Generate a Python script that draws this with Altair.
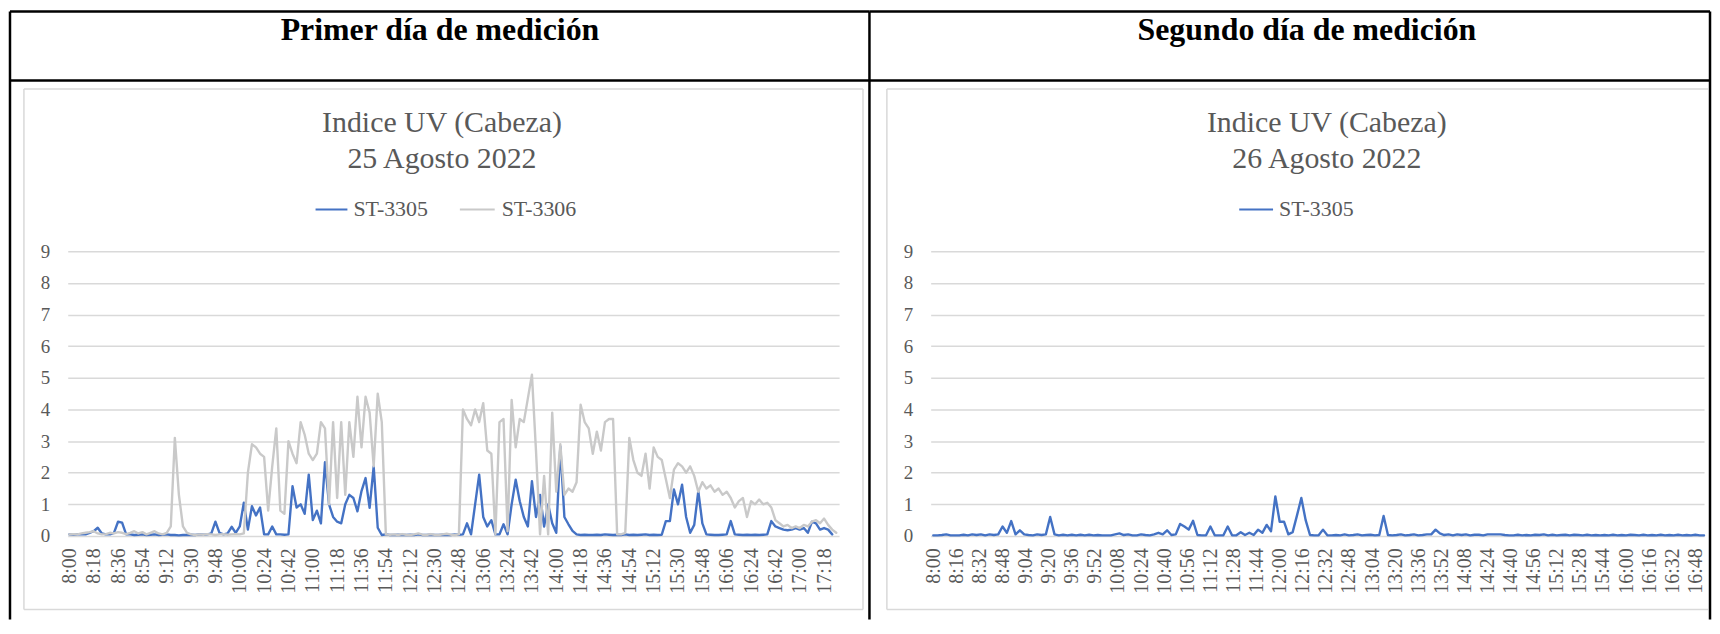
import altair as alt
import pandas as pd

FONT = "Liberation Serif"
STEP = 3  # minutes between samples, starting at 8:00

# ---------------- Day 1: 25 Agosto 2022 (one value every 3 min from 8:00) ----------------
d1_st3305 = [
    0.05, 0.04, 0.05, 0.06, 0.05, 0.10, 0.15, 0.26, 0.08, 0.05,   # 8:00
    0.05, 0.10, 0.45, 0.42, 0.05, 0.05, 0.03, 0.04, 0.05, 0.03,   # 8:30
    0.04, 0.05, 0.03, 0.04, 0.05, 0.03, 0.03, 0.02, 0.03, 0.03,   # 9:00
    0.04, 0.03, 0.05, 0.04, 0.05, 0.08, 0.45, 0.10, 0.05, 0.08,   # 9:30
    0.29, 0.10, 0.30, 1.05, 0.20, 0.94, 0.65, 0.90, 0.05, 0.05,   # 10:00
    0.30, 0.05, 0.05, 0.04, 0.05, 1.57, 0.90, 1.00, 0.70, 1.94,   # 10:30
    0.50, 0.80, 0.40, 2.33, 1.00, 0.60, 0.45, 0.40, 1.00, 1.30,   # 11:00
    1.20, 0.78, 1.42, 1.83, 0.89, 2.20, 0.26, 0.03, 0.05, 0.03,   # 11:30
    0.03, 0.04, 0.03, 0.03, 0.04, 0.03, 0.05, 0.03, 0.03, 0.04,   # 12:00
    0.03, 0.03, 0.04, 0.03, 0.03, 0.05, 0.04, 0.05, 0.40, 0.05,   # 12:30
    1.00, 1.94, 0.60, 0.30, 0.50, 0.05, 0.05, 0.37, 0.05, 1.00,   # 13:00
    1.78, 1.10, 0.60, 0.30, 1.73, 0.60, 1.30, 0.30, 1.00, 0.40,   # 13:30
    0.10, 2.83, 0.60, 0.37, 0.16, 0.05, 0.03, 0.04, 0.03, 0.03,   # 14:00
    0.04, 0.03, 0.05, 0.04, 0.03, 0.04, 0.03, 0.05, 0.03, 0.04,   # 14:30
    0.03, 0.04, 0.05, 0.03, 0.04, 0.03, 0.04, 0.47, 0.47, 1.47,   # 15:00
    1.00, 1.62, 0.60, 0.10, 0.35, 1.42, 0.40, 0.05, 0.04, 0.03,   # 15:30
    0.03, 0.04, 0.05, 0.47, 0.05, 0.04, 0.03, 0.04, 0.03, 0.04,   # 16:00
    0.03, 0.04, 0.05, 0.47, 0.30, 0.25, 0.20, 0.18, 0.20, 0.25,   # 16:30
    0.20, 0.25, 0.10, 0.45, 0.40, 0.20, 0.25, 0.20, 0.05, None,   # 17:00
]
d1_st3306 = [
    0.05, 0.06, 0.05, 0.08, 0.10, 0.12, 0.15, 0.08, 0.05, 0.06,   # 8:00
    0.10, 0.08, 0.12, 0.10, 0.06, 0.10, 0.15, 0.08, 0.12, 0.05,   # 8:30
    0.10, 0.15, 0.08, 0.05, 0.10, 0.30, 3.10, 1.30, 0.30, 0.10,   # 9:00
    0.05, 0.03, 0.05, 0.04, 0.06, 0.05, 0.03, 0.05, 0.06, 0.04,   # 9:30
    0.05, 0.06, 0.05, 0.08, 2.00, 2.90, 2.80, 2.60, 2.50, 0.80,   # 10:00
    2.20, 3.40, 0.80, 0.70, 3.00, 2.60, 2.30, 3.60, 3.20, 2.60,   # 10:30
    2.40, 2.60, 3.60, 3.40, 1.00, 3.60, 1.20, 3.60, 1.30, 3.60,   # 11:00
    2.50, 4.40, 2.80, 4.40, 3.90, 2.20, 4.50, 3.60, 0.05, 0.04,   # 11:30
    0.05, 0.03, 0.06, 0.04, 0.03, 0.05, 0.08, 0.04, 0.03, 0.06,   # 12:00
    0.04, 0.03, 0.05, 0.07, 0.04, 0.03, 0.05, 4.00, 3.70, 3.50,   # 12:30
    4.00, 3.60, 4.20, 2.70, 2.60, 0.05, 3.60, 3.70, 0.15, 4.30,   # 13:00
    2.80, 3.70, 3.60, 4.35, 5.10, 2.70, 0.05, 1.90, 0.05, 3.90,   # 13:30
    1.40, 2.90, 1.30, 1.50, 1.40, 1.70, 4.15, 3.60, 3.40, 2.60,   # 14:00
    3.30, 2.70, 3.60, 3.70, 3.70, 0.05, 0.05, 0.10, 3.10, 2.40,   # 14:30
    2.00, 1.90, 2.60, 1.50, 2.80, 2.50, 2.40, 1.80, 1.20, 2.10,   # 15:00
    2.30, 2.20, 2.00, 2.20, 1.90, 1.40, 1.70, 1.50, 1.60, 1.40,   # 15:30
    1.50, 1.30, 1.40, 1.20, 0.90, 1.10, 1.20, 0.60, 1.10, 1.00,   # 16:00
    1.15, 1.00, 1.05, 0.90, 0.50, 0.40, 0.30, 0.35, 0.25, 0.30,   # 16:30
    0.25, 0.35, 0.30, 0.45, 0.50, 0.40, 0.55, 0.35, 0.20, 0.10,   # 17:00
]

# ---------------- Day 2: 26 Agosto 2022 ----------------
d2_st3305 = [
    0.02, 0.02, 0.03, 0.05, 0.02, 0.02, 0.02, 0.04, 0.02, 0.05,   # 8:00
    0.03, 0.05, 0.02, 0.05, 0.03, 0.05, 0.30, 0.10, 0.47, 0.05,   # 8:30
    0.18, 0.05, 0.03, 0.02, 0.05, 0.03, 0.05, 0.60, 0.05, 0.02,   # 9:00
    0.04, 0.02, 0.04, 0.02, 0.04, 0.02, 0.04, 0.02, 0.03, 0.02,   # 9:30
    0.02, 0.02, 0.05, 0.08, 0.03, 0.05, 0.02, 0.02, 0.05, 0.03,   # 10:00
    0.02, 0.05, 0.10, 0.05, 0.18, 0.03, 0.05, 0.38, 0.30, 0.20,   # 10:30
    0.48, 0.03, 0.02, 0.02, 0.30, 0.02, 0.02, 0.02, 0.30, 0.02,   # 11:00
    0.02, 0.12, 0.03, 0.10, 0.03, 0.20, 0.10, 0.35, 0.15, 1.25,   # 11:30
    0.45, 0.45, 0.05, 0.12, 0.65, 1.20, 0.50, 0.03, 0.02, 0.02,   # 12:00
    0.20, 0.02, 0.02, 0.03, 0.02, 0.05, 0.02, 0.03, 0.05, 0.02,   # 12:30
    0.03, 0.04, 0.02, 0.03, 0.63, 0.03, 0.02, 0.03, 0.05, 0.02,   # 13:00
    0.03, 0.05, 0.02, 0.03, 0.05, 0.05, 0.20, 0.08, 0.03, 0.05,   # 13:30
    0.02, 0.05, 0.03, 0.05, 0.02, 0.04, 0.04, 0.02, 0.05, 0.05,   # 14:00
    0.05, 0.05, 0.03, 0.02, 0.02, 0.04, 0.02, 0.03, 0.02, 0.04,   # 14:30
    0.03, 0.05, 0.02, 0.04, 0.02, 0.03, 0.04, 0.02, 0.04, 0.03,   # 15:00
    0.02, 0.04, 0.02, 0.03, 0.02, 0.03, 0.02, 0.04, 0.02, 0.03,   # 15:30
    0.02, 0.04, 0.03, 0.02, 0.04, 0.02, 0.03, 0.02, 0.04, 0.02,   # 16:00
    0.03, 0.02, 0.04, 0.02, 0.03, 0.02, 0.04, 0.02, 0.02,         # 16:30
]

# ---------------- axis tick labels ----------------
d1_tick_labels = ["8:00", "8:18", "8:36", "8:54", "9:12", "9:30", "9:48", "10:06",
                  "10:24", "10:42", "11:00", "11:18", "11:36", "11:54", "12:12", "12:30",
                  "12:48", "13:06", "13:24", "13:42", "14:00", "14:18", "14:36", "14:54",
                  "15:12", "15:30", "15:48", "16:06", "16:24", "16:42", "17:00", "17:18"]
d1_tick_step = 18
d2_tick_labels = ["8:00", "8:16", "8:32", "8:48", "9:04", "9:20", "9:36", "9:52",
                  "10:08", "10:24", "10:40", "10:56", "11:12", "11:28", "11:44", "12:00",
                  "12:16", "12:32", "12:48", "13:04", "13:20", "13:36", "13:52", "14:08",
                  "14:24", "14:40", "14:56", "15:12", "15:28", "15:44", "16:00", "16:16",
                  "16:32", "16:48"]
d2_tick_step = 16
y_ticks = list(range(0, 10))

series_names = ["ST-3305", "ST-3306"]
series_colors = ["#4472C4", "#C9C9C9"]

headers = ["Primer día de medición", "Segundo día de medición"]
titles = [["Indice UV (Cabeza)", "25 Agosto 2022"], ["Indice UV (Cabeza)", "26 Agosto 2022"]]

PLOT_H = 286
BORDER = "#000000"
BOX = "#D9D9D9"
TXT = "#595959"

one = alt.Data(values=[{"k": 0}])


def hline(x1, x2, y, color, w):
    return alt.Chart(one).mark_rule(color=color, strokeWidth=w).encode(
        x=alt.value(x1), x2=alt.value(x2), y=alt.value(y))


def vline(x, y1, y2, color, w):
    return alt.Chart(one).mark_rule(color=color, strokeWidth=w).encode(
        x=alt.value(x), y=alt.value(y1), y2=alt.value(y2))


def text(t, x, y, size, color, bold=False, align="center", baseline="alphabetic"):
    kw = dict(text=t, font=FONT, fontSize=size, color=color, align=align, baseline=baseline)
    if bold:
        kw["fontWeight"] = "bold"
    return alt.Chart(one).mark_text(**kw).encode(x=alt.value(x), y=alt.value(y))


def series_df(vals):
    mins = [i * STEP for i in range(len(vals))]
    return pd.DataFrame({"m": mins, "v": vals}).dropna()


def axes(labels, step):
    ticks = [i * step for i in range(len(labels))]
    expr = "[" + ",".join("'" + l + "'" for l in labels) + "][round(datum.value/" + str(step) + ")]"
    xaxis = alt.Axis(values=ticks, labelExpr=expr, labelAngle=270, labelAlign="right",
                     labelBaseline="middle", ticks=False, tickSize=0, domain=False, grid=False,
                     labelPadding=12, labelFont=FONT, labelFontSize=20, labelColor=TXT,
                     labelOverlap=False, labelFlush=False, title=None)
    yaxis = alt.Axis(values=y_ticks, ticks=False, tickSize=0, domain=False, grid=True,
                     gridColor=BOX, gridWidth=1.5, labelPadding=18, labelFont=FONT,
                     labelFontSize=19, labelColor=TXT, title=None)
    return xaxis, yaxis


def line_layer(df, color, xdom, xaxis, yaxis):
    return alt.Chart(df).mark_line(color=color, strokeWidth=2.4, strokeJoin="round",
                                   strokeCap="round").encode(
        x=alt.X("m:Q", scale=alt.Scale(domain=xdom, nice=False, zero=False), axis=xaxis),
        y=alt.Y("v:Q", scale=alt.Scale(domain=[0, 9], nice=False), axis=yaxis))


# ---------------- left panel (plot origin at page x=67, y=250) ----------------
xdom1 = [-1.2, 569.1]
xa1, ya1 = axes(d1_tick_labels, d1_tick_step)
left_layers = [
    # table cell borders
    vline(-58, -241, 370, BORDER, 2.5),
    hline(-58, 805.5, -241, BORDER, 2.5),
    hline(-58, 805.5, -171.5, BORDER, 2.5),
    vline(805.5, -241, 370, BORDER, 2.5),
    text(headers[0], 374, -212, 32, "black", bold=True),
    # chart frame
    vline(-44, -163, 360, BOX, 1.5),
    vline(799, -163, 360, BOX, 1.5),
    hline(-44, 799, -163, BOX, 1.5),
    hline(-44, 799, 360, BOX, 1.5),
    text(titles[0][0], 376, -120, 30, TXT),
    text(titles[0][1], 376, -83.5, 30, TXT),
    # legend
    hline(249, 281, -42, series_colors[0], 2.25),
    text(series_names[0], 287, -42, 22, TXT, align="left", baseline="middle"),
    hline(394, 429, -42, series_colors[1], 2.25),
    text(series_names[1], 436, -42, 22, TXT, align="left", baseline="middle"),
    # data
    line_layer(series_df(d1_st3305), series_colors[0], xdom1, xa1, ya1),
    line_layer(series_df(d1_st3306), series_colors[1], xdom1, xa1, ya1),
]
left = alt.layer(*left_layers).properties(width=775, height=PLOT_H)

# ---------------- right panel (plot origin at page x=934, y=250) ----------------
xdom2 = [-1.8, 534.0]
xa2, ya2 = axes(d2_tick_labels, d2_tick_step)
right_layers = [
    hline(-61.5, 783, -241, BORDER, 2.5),
    hline(-61.5, 783, -171.5, BORDER, 2.5),
    vline(783, -241, 370, BORDER, 2.5),
    text(headers[1], 378, -212, 32, "black", bold=True),
    vline(-44, -163, 360, BOX, 1.5),
    hline(-44, 781, -163, BOX, 1.5),
    hline(-44, 781, 360, BOX, 1.5),
    text(titles[1][0], 398, -120, 30, TXT),
    text(titles[1][1], 398, -83.5, 30, TXT),
    hline(310, 344, -42, series_colors[0], 2.25),
    text(series_names[0], 350, -42, 22, TXT, align="left", baseline="middle"),
    line_layer(series_df(d2_st3305), series_colors[0], xdom2, xa2, ya2),
]
right = alt.layer(*right_layers).properties(width=777, height=PLOT_H)

chart = alt.hconcat(left, right, spacing=92, bounds="flush").properties(
    padding=0).configure_view(strokeWidth=0)

chart.save("out.html", embed_options={"renderer": "svg", "actions": False})
